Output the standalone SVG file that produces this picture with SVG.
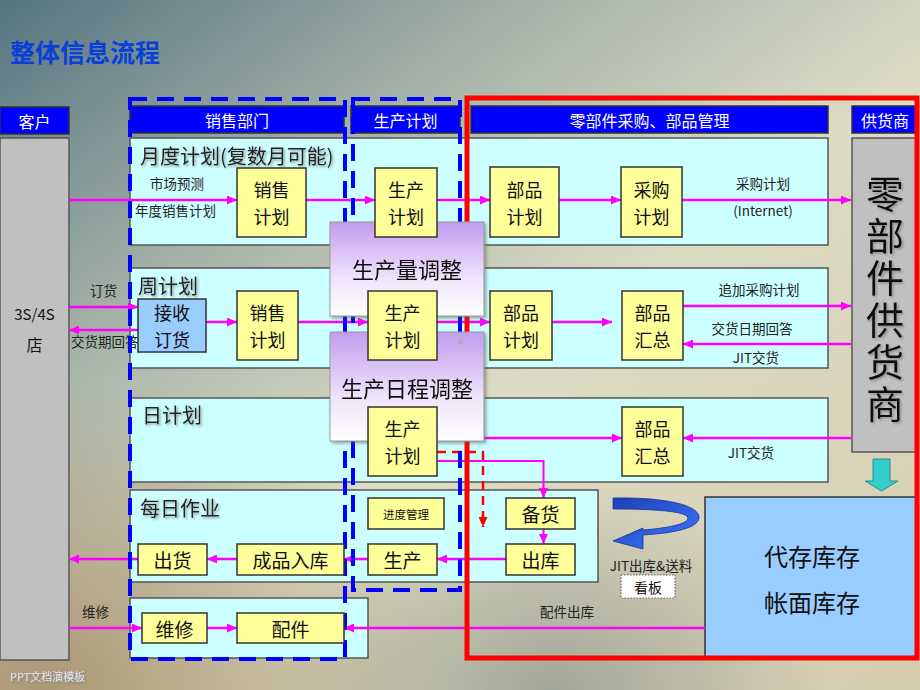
<svg xmlns="http://www.w3.org/2000/svg" width="920" height="690" viewBox="0 0 920 690">
<defs>
<linearGradient id="bg" x1="0" y1="0" x2="1" y2="1">
<stop offset="0" stop-color="#557580"/>
<stop offset="0.3" stop-color="#a8b4aa"/>
<stop offset="0.55" stop-color="#dcdcc4"/>
<stop offset="1" stop-color="#d6ccb0"/>
</linearGradient>
<radialGradient id="bl" cx="0.05" cy="1" r="0.45">
<stop offset="0" stop-color="#a48c68" stop-opacity="0.85"/>
<stop offset="1" stop-color="#a48c68" stop-opacity="0"/>
</radialGradient>
<radialGradient id="bm" cx="0.6" cy="1" r="0.3">
<stop offset="0" stop-color="#8a9488" stop-opacity="0.7"/>
<stop offset="1" stop-color="#8a9488" stop-opacity="0"/>
</radialGradient>
<linearGradient id="purple" x1="0" y1="0" x2="0" y2="1">
<stop offset="0" stop-color="#c29cee"/>
<stop offset="0.6" stop-color="#eee4fb"/>
<stop offset="1" stop-color="#ffffff"/>
</linearGradient>
<linearGradient id="curl" x1="0" y1="0" x2="1" y2="1">
<stop offset="0" stop-color="#1d3fb8"/>
<stop offset="1" stop-color="#3b7bff"/>
</linearGradient>
<marker id="ah" markerUnits="userSpaceOnUse" markerWidth="10" markerHeight="9" refX="10" refY="4.5" orient="auto">
<path d="M0,0 L10,4.5 L0,9 z" fill="#ff00ff"/>
</marker>
<marker id="ahr" markerUnits="userSpaceOnUse" markerWidth="10" markerHeight="9" refX="10" refY="4.5" orient="auto">
<path d="M0,0 L10,4.5 L0,9 z" fill="#ff0000"/>
</marker>
<filter id="sh" x="-10%" y="-10%" width="130%" height="140%">
<feDropShadow dx="1.5" dy="1.5" stdDeviation="0.8" flood-color="#777" flood-opacity="0.7"/>
</filter>
<filter id="bsh" x="-10%" y="-10%" width="130%" height="130%">
<feDropShadow dx="2" dy="2" stdDeviation="1.5" flood-color="#555" flood-opacity="0.5"/>
</filter>
<style>
text{font-family:"Noto Sans CJK SC","Liberation Sans",sans-serif;}
.hdr rect{fill:#0000ff;stroke:#333;stroke-width:1.5;}
.hdr text{fill:#fff;font-size:16px;text-anchor:middle;dominant-baseline:central;}
.panel{fill:#ccffff;stroke:#555;stroke-width:1.5;}
.gray{fill:#c0c0c0;stroke:#555;stroke-width:1.5;}
.yb rect{fill:#ffff99;stroke:#333;stroke-width:1.5;}
.yb text,.bb text{font-size:18px;fill:#111;text-anchor:middle;dominant-baseline:central;}
.bb rect{fill:#99ccff;stroke:#333;stroke-width:1.5;}
.pb rect{fill:url(#purple);stroke:#999;stroke-width:1;}
.pb text{font-size:22px;fill:#111;text-anchor:middle;dominant-baseline:central;}
.rl{font-size:20px;fill:#222;filter:url(#sh);}
.lbl{font-size:13.5px;fill:#222;}
.dash{fill:none;stroke:#0000ff;stroke-width:4;stroke-dasharray:17 10;}
.conn path{fill:none;stroke:#ff00ff;stroke-width:2.5;marker-end:url(#ah);}
</style>
</defs>

<rect width="920" height="690" fill="url(#bg)"/>
<rect width="920" height="690" fill="url(#bl)"/>
<rect width="920" height="690" fill="url(#bm)"/>

<text x="10" y="62" font-size="25" font-weight="bold" fill="#0a3fd8">整体信息流程</text>

<g class="hdr" id="hdr-customer"><rect x="0" y="107" width="69" height="27"/><text x="34.5" y="120.5">客户</text></g>
<g class="hdr" id="hdr-sales"><rect x="130" y="106" width="214" height="27"/><text x="237" y="119.5">销售部门</text></g>
<g class="hdr" id="hdr-prod"><rect x="351" y="106" width="109" height="27"/><text x="405.5" y="119.5">生产计划</text></g>
<g class="hdr" id="hdr-parts"><rect x="471" y="106" width="357" height="27"/><text x="649.5" y="119.5">零部件采购、部品管理</text></g>
<g class="hdr" id="hdr-supplier"><rect x="852" y="106" width="66" height="27"/><text x="885" y="119.5">供货商</text></g>

<g id="customer">
<rect class="gray" x="0" y="138" width="69" height="522"/>
<text x="34.5" y="313" font-size="15" text-anchor="middle" dominant-baseline="central" fill="#111">3S/4S</text>
<text x="34.5" y="344" font-size="16" text-anchor="middle" dominant-baseline="central" fill="#111">店</text>
</g>

<g id="supplier">
<rect class="gray" x="852" y="138" width="66" height="314"/>
<text x="885" y="175" font-size="38" letter-spacing="4" writing-mode="vertical-rl" fill="#111" filter="url(#sh)">零部件供货商</text>
</g>

<g id="panels">
<rect class="panel" x="130" y="138" width="698" height="107"/>
<rect class="panel" x="130" y="268" width="698" height="100"/>
<rect class="panel" x="130" y="398" width="698" height="84"/>
<rect class="panel" x="130" y="490" width="468" height="92"/>
<rect class="panel" x="130" y="598" width="238" height="60"/>
<text class="rl" x="140" y="155" dominant-baseline="central">月度计划(复数月可能)</text>
<text class="rl" x="138" y="285" dominant-baseline="central">周计划</text>
<text class="rl" x="142" y="414" dominant-baseline="central">日计划</text>
<text class="rl" x="140" y="507" dominant-baseline="central">每日作业</text>
</g>

<g id="inventory">
<rect x="705" y="497" width="213" height="161" fill="#99ccff" stroke="#333" stroke-width="1.5"/>
<text x="812" y="555" font-size="24" text-anchor="middle" dominant-baseline="central" fill="#111">代存库存</text>
<text x="812" y="601" font-size="24" text-anchor="middle" dominant-baseline="central" fill="#111">帐面库存</text>
</g>

<g id="supply-arrow">
<path d="M873,459 H890 V481 H898 L881.5,491 L865,481 H873 Z" fill="#33cccc" stroke="#2a8f8f" stroke-width="1"/>
</g>

<g id="kanban-curl">
<path d="M613,498 C665,497 700,505 699,518 C698,528 675,533 643,535 L643,549 L613,541 L643,528 L643,530 C668,528 688,524 688,518 C688,512 660,509 613,509 Z" fill="url(#curl)" stroke="#1a3090" stroke-width="0.8"/>
</g>

<g id="labels">
<text class="lbl" x="150" y="183" dominant-baseline="central">市场预测</text>
<text class="lbl" x="135" y="210" dominant-baseline="central">年度销售计划</text>
<text class="lbl" x="90" y="290" dominant-baseline="central">订货</text>
<text class="lbl" x="71" y="341" font-size="12.5" dominant-baseline="central">交货期回答</text>
<text class="lbl" x="82" y="611" dominant-baseline="central">维修</text>
<text class="lbl" x="763" y="183" text-anchor="middle" dominant-baseline="central">采购计划</text>
<text class="lbl" x="763" y="210" text-anchor="middle" dominant-baseline="central">(Internet)</text>
<text class="lbl" x="759" y="289" text-anchor="middle" dominant-baseline="central">追加采购计划</text>
<text class="lbl" x="752" y="328" text-anchor="middle" dominant-baseline="central">交货日期回答</text>
<text class="lbl" x="756" y="357" text-anchor="middle" dominant-baseline="central">JIT交货</text>
<text class="lbl" x="751" y="452" text-anchor="middle" dominant-baseline="central">JIT交货</text>
<text class="lbl" x="651" y="565" text-anchor="middle" dominant-baseline="central">JIT出库&amp;送料</text>
<text class="lbl" x="567" y="611" text-anchor="middle" dominant-baseline="central">配件出库</text>
</g>

<g id="kanban">
<rect x="621" y="575" width="54" height="23" fill="#fff" stroke="#666" stroke-width="1.2" stroke-dasharray="1.5 1.5"/>
<text x="648" y="586.5" font-size="14" text-anchor="middle" dominant-baseline="central" fill="#111">看板</text>
</g>

<g class="conn" id="connectors">
<path d="M69,200 H237"/>
<path d="M306,200 H375"/>
<path d="M437,200 H490"/>
<path d="M559,200 H621"/>
<path d="M682,200 H851"/>
<path d="M69,307 H138"/>
<path d="M138,330 H69"/>
<path d="M206,322 H237"/>
<path d="M298,322 H368"/>
<path d="M437,322 H490"/>
<path d="M552,322 H612"/>
<path d="M683,306 H851"/>
<path d="M851,344 H683"/>
<path d="M483,438 H622"/>
<path d="M851,438 H683"/>
<path d="M437,461 H543.5 V498" style="stroke-width:2"/>
<path d="M437,452 H483 V527" style="stroke:#ff0000;stroke-width:2.5;stroke-dasharray:9 6;marker-end:url(#ahr)"/>
<path d="M543.5,529 V544" style="stroke-width:2"/>
<path d="M506,559 H437"/>
<path d="M368,559 H344"/>
<path d="M237,559 H207"/>
<path d="M138,559 H69"/>
<path d="M69,628 H142"/>
<path d="M207,628 H237"/>
<path d="M705,628 H344"/>
</g>

<g id="frames">
<rect class="dash" x="130" y="99" width="215" height="560"/>
<rect class="dash" x="353" y="99" width="107" height="491"/>
<rect x="467" y="98" width="450" height="560" fill="none" stroke="#ff0000" stroke-width="5"/>
</g>

<g class="pb" id="adj-volume" filter="url(#bsh)"><rect x="330" y="222" width="154" height="94"/><text x="407" y="268">生产量调整</text></g>
<g class="pb" id="adj-schedule" filter="url(#bsh)"><rect x="330" y="332" width="154" height="109"/><text x="407" y="387">生产日程调整</text><rect x="458" y="339" width="5" height="5" style="fill:#b0a8c4;stroke:none"/></g>

<g class="yb" id="sales-plan-1"><rect x="237" y="168" width="69" height="69"/><text><tspan x="271.5" y="189.3">销售</tspan><tspan x="271.5" y="215.8">计划</tspan></text></g>
<g class="yb" id="prod-plan-1"><rect x="375" y="168" width="62" height="69"/><text><tspan x="406" y="189.3">生产</tspan><tspan x="406" y="215.8">计划</tspan></text></g>
<g class="yb" id="parts-plan-1"><rect x="490" y="167" width="69" height="70"/><text><tspan x="524.5" y="189">部品</tspan><tspan x="524.5" y="215.5">计划</tspan></text></g>
<g class="yb" id="purchase-plan"><rect x="621" y="167" width="61" height="70"/><text><tspan x="651.5" y="189">采购</tspan><tspan x="651.5" y="215.5">计划</tspan></text></g>
<g class="bb" id="receive-order"><rect x="138" y="299" width="68" height="53"/><text><tspan x="172" y="312.3">接收</tspan><tspan x="172" y="338.8">订货</tspan></text></g>
<g class="yb" id="sales-plan-2"><rect x="237" y="291" width="61" height="69"/><text><tspan x="267.5" y="312.3">销售</tspan><tspan x="267.5" y="338.8">计划</tspan></text></g>
<g class="yb" id="prod-plan-2"><rect x="368" y="291" width="69" height="69"/><text><tspan x="402.5" y="312.3">生产</tspan><tspan x="402.5" y="338.8">计划</tspan></text></g>
<g class="yb" id="parts-plan-2"><rect x="490" y="291" width="62" height="69"/><text><tspan x="521" y="312.3">部品</tspan><tspan x="521" y="338.8">计划</tspan></text></g>
<g class="yb" id="parts-sum-2"><rect x="622" y="291" width="61" height="69"/><text><tspan x="652.5" y="312.3">部品</tspan><tspan x="652.5" y="338.8">汇总</tspan></text></g>
<g class="yb" id="prod-plan-3"><rect x="368" y="407" width="69" height="69"/><text><tspan x="402.5" y="428.3">生产</tspan><tspan x="402.5" y="454.8">计划</tspan></text></g>
<g class="yb" id="parts-sum-3"><rect x="622" y="407" width="61" height="69"/><text><tspan x="652.5" y="428.3">部品</tspan><tspan x="652.5" y="454.8">汇总</tspan></text></g>
<g class="yb" id="progress"><rect x="368" y="498" width="76" height="31"/><text x="406" y="513.5" style="font-size:11.5px">进度管理</text></g>
<g class="yb" id="stock-prep"><rect x="506" y="498" width="69" height="31"/><text x="540.5" y="513.5" style="font-size:19px">备货</text></g>
<g class="yb" id="dispatch"><rect x="506" y="544" width="69" height="31"/><text x="540.5" y="559.5" style="font-size:19px">出库</text></g>
<g class="yb" id="production"><rect x="368" y="544" width="69" height="31"/><text x="402.5" y="559.5" style="font-size:19px">生产</text></g>
<g class="yb" id="fg-store"><rect x="237" y="544" width="107" height="31"/><text x="290.5" y="559.5" style="font-size:19px">成品入库</text></g>
<g class="yb" id="shipping"><rect x="138" y="544" width="69" height="31"/><text x="172.5" y="559.5" style="font-size:19px">出货</text></g>
<g class="yb" id="repair"><rect x="142" y="613" width="65" height="30"/><text x="174.5" y="628" style="font-size:19px">维修</text></g>
<g class="yb" id="spare-parts"><rect x="237" y="613" width="107" height="30"/><text x="290.5" y="628" style="font-size:19px">配件</text></g>

<text x="10" y="681" font-size="11" fill="#dfe5f7" filter="url(#sh)">PPT文档演模板</text>
</svg>
